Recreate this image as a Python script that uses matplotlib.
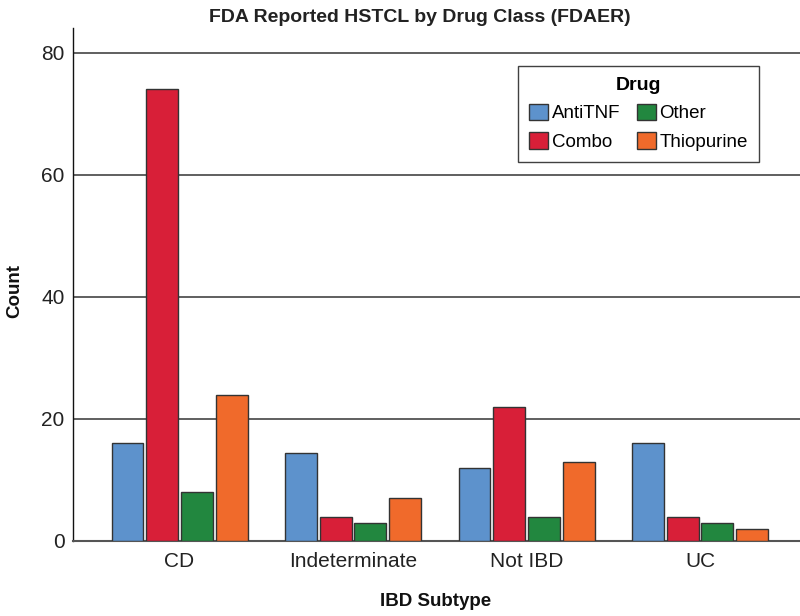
import numpy as np
import matplotlib
matplotlib.use('Agg')
import matplotlib.pyplot as plt

plt.rcParams['font.family'] = ['Liberation Sans', 'DejaVu Sans']

# data
subtypes = ['CD', 'Indeterminate', 'Not IBD', 'UC']
drugs = ['AntiTNF', 'Combo', 'Other', 'Thiopurine']
antitnf = [16, 14.4, 12, 16]
combo = [74, 4, 22, 4]
other = [8, 3, 4, 3]
thiopurine = [24, 7, 13, 2]
colors = ['#5D92CC', '#D81F38', '#22873F', '#F06A2B']

series = [antitnf, combo, other, thiopurine]

fig = plt.figure(figsize=(8, 6.16), dpi=100)
ax = fig.add_axes([73/800, 1 - 541/616, (800 - 73)/800, (541 - 28)/616])

x = np.arange(len(subtypes))
slot = 0.2
for j, vals in enumerate(series):
    ax.bar(x + (j - 1.5)*slot, vals, width=0.184, color=colors[j],
           edgecolor='#333333', linewidth=1.0, label=drugs[j], zorder=3)

ax.set_xlim(-0.614, 3.576)
ax.set_ylim(0, 84.05)
ax.set_yticks([0, 20, 40, 60, 80])
ax.set_xticks(x)
ax.set_xticklabels(subtypes)
ax.tick_params(axis='both', length=0, labelsize=15, colors='#222222', pad=6)
ax.tick_params(axis='x', pad=8)

# horizontal reference lines
for yv in [20, 40, 60, 80]:
    ax.axhline(yv, color='#444444', linewidth=1.2, zorder=1)

for s in ['top', 'right']:
    ax.spines[s].set_visible(False)
ax.spines['left'].set_color('#111111')
ax.spines['left'].set_linewidth(1.0)
ax.spines['bottom'].set_color('#555555')
ax.spines['bottom'].set_linewidth(1.5)

fig.text(15/800, 1 - 291/616, 'Count', rotation=90, ha='center', va='center',
         fontsize=13.5, fontweight='bold', color='#111111')
fig.text(436/800, 1 - 602/616, 'IBD Subtype', ha='center', va='center',
         fontsize=13.5, fontweight='bold', color='#111111')
fig.text(420/800, 1 - 18/616, 'FDA Reported HSTCL by Drug Class (FDAER)',
         ha='center', va='center', fontsize=14, fontweight='bold', color='#222222')

leg = ax.legend(ncol=2, loc='upper left', bbox_to_anchor=(518/800, 1 - 66/616),
                bbox_transform=fig.transFigure, borderaxespad=0, title='Drug', fontsize=13.5,
                title_fontproperties={'weight': 'bold', 'size': 14},
                frameon=True, fancybox=False, edgecolor='#111111',
                handlelength=1.0, handleheight=1.0, handletextpad=0.2,
                columnspacing=0.9, borderpad=0.6, labelspacing=0.5)
leg.get_frame().set_linewidth(1.0)

fig.savefig('out.png', dpi=100)
